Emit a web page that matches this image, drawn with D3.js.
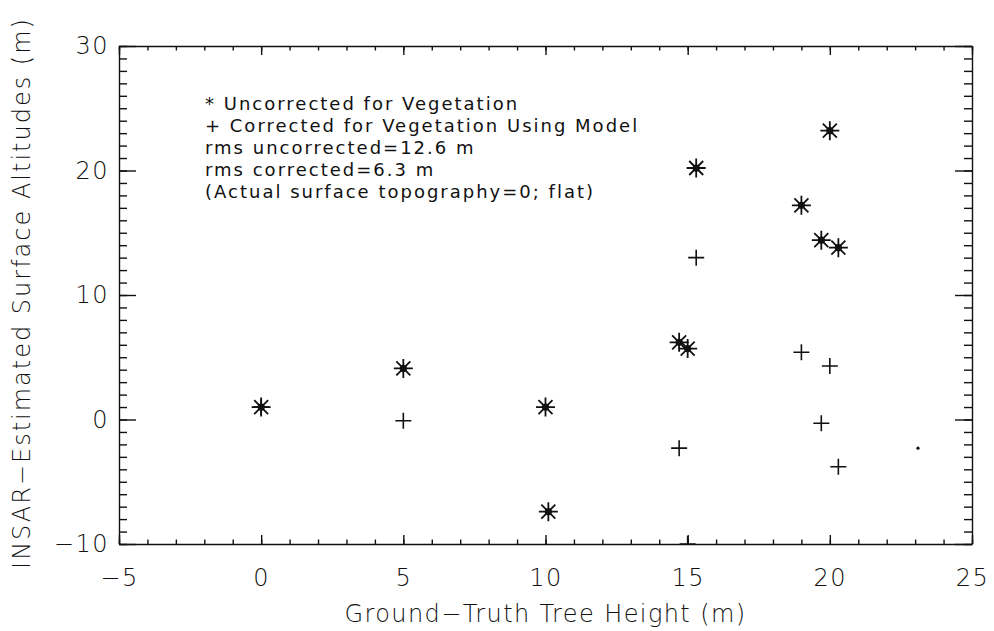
<!DOCTYPE html>
<html>
<head>
<meta charset="utf-8">
<script src="https://cdn.jsdelivr.net/npm/d3@7"></script>
<style>
  body { margin: 0; background: #fff; }
  text { font-family: "DejaVu Sans", sans-serif; fill: #111; }
</style>
</head>
<body>
<div id="chart"></div>
<script>
// tree height (m) vs INSAR estimated altitude (m)
var uncorrectedX = [0, 5, 10, 10.1, 14.7, 15.0, 15.3, 19.0, 19.7, 20.0, 20.3];
var uncorrectedY = [1.0, 4.1, 1.0, -7.4, 6.2, 5.7, 20.2, 17.2, 14.4, 23.2, 13.8];
var correctedX = [0, 5, 14.7, 15.0, 15.3, 19.0, 19.7, 20.0, 20.3];
var correctedY = [1.0, -0.1, -2.3, -10.0, 13.0, 5.4, -0.3, 4.3, -3.8];
var strayX = [23.1];
var strayY = [-2.3];

var xTicks = [-5, 0, 5, 10, 15, 20, 25];
var yTicks = [-10, 0, 10, 20, 30];
var legendLines = [
  "* Uncorrected for Vegetation",
  "+ Corrected for Vegetation Using Model",
  "rms uncorrected=12.6 m",
  "rms corrected=6.3 m",
  "(Actual surface topography=0; flat)"
];

drawChart();

function drawChart(){
   var W = 994, H = 631;
   var pl = 119, pr = 972, pt = 46, pb = 544;

   var svg = d3.select("#chart").append("svg")
      .attr("width", W)
      .attr("height", H);

   var x = d3.scaleLinear().domain([-5, 25]).range([pl, pr]);
   var y = d3.scaleLinear().domain([-10, 30]).range([pb, pt]);

   var minorX = d3.range(-5, 26, 1);
   var minorY = d3.range(-10, 31, 1);

   function styleAxis(g){
      g.selectAll("path, line").attr("stroke", "#111").attr("stroke-width", 1.4);
   }
   function noDomain(g){ g.select(".domain").remove(); }

   // bottom
   svg.append("g").attr("transform", "translate(0," + pb + ")")
      .call(d3.axisBottom(x).tickValues(minorX).tickSize(-4.5).tickSizeOuter(0).tickFormat(""))
      .call(styleAxis);
   svg.append("g").attr("class", "xlab").attr("transform", "translate(0," + pb + ")")
      .call(d3.axisBottom(x).tickValues(xTicks).tickSize(-9).tickSizeOuter(0).tickPadding(25))
      .call(styleAxis).call(noDomain);
   // top
   svg.append("g").attr("transform", "translate(0," + pt + ")")
      .call(d3.axisTop(x).tickValues(minorX).tickSize(-4.5).tickSizeOuter(0).tickFormat(""))
      .call(styleAxis);
   svg.append("g").attr("transform", "translate(0," + pt + ")")
      .call(d3.axisTop(x).tickValues(xTicks).tickSize(-9).tickSizeOuter(0).tickFormat(""))
      .call(styleAxis).call(noDomain);
   // left
   svg.append("g").attr("transform", "translate(" + pl + ",0)")
      .call(d3.axisLeft(y).tickValues(minorY).tickSize(-8).tickSizeOuter(0).tickFormat(""))
      .call(styleAxis);
   svg.append("g").attr("class", "ylab").attr("transform", "translate(" + pl + ",0)")
      .call(d3.axisLeft(y).tickValues(yTicks).tickSize(-17).tickSizeOuter(0).tickPadding(10))
      .call(styleAxis).call(noDomain);
   // right
   svg.append("g").attr("transform", "translate(" + pr + ",0)")
      .call(d3.axisRight(y).tickValues(minorY).tickSize(-8).tickSizeOuter(0).tickFormat(""))
      .call(styleAxis);
   svg.append("g").attr("transform", "translate(" + pr + ",0)")
      .call(d3.axisRight(y).tickValues(yTicks).tickSize(-17).tickSizeOuter(0).tickFormat(""))
      .call(styleAxis).call(noDomain);

   svg.selectAll(".xlab text, .ylab text")
      .attr("font-family", null)
      .attr("font-size", null)
      .style("font-size", "24px")
      .style("font-weight", "200")
      .style("letter-spacing", "1.5px")
      .attr("fill", "#111");

   // axis titles
   svg.append("text")
      .attr("x", (pl + pr) / 2)
      .attr("y", 622)
      .attr("text-anchor", "middle")
      .style("font-size", "24px")
      .style("font-weight", "200")
      .style("letter-spacing", "1.4px")
      .text("Ground\u2212Truth Tree Height (m)");

   svg.append("text")
      .attr("transform", "translate(30,293) rotate(-90)")
      .attr("text-anchor", "middle")
      .style("font-size", "24px")
      .style("font-weight", "200")
      .style("letter-spacing", "2px")
      .text("INSAR\u2212Estimated Surface Altitudes (m)");

   // legend
   svg.selectAll(".legend").data(legendLines).enter().append("text")
      .attr("class", "legend")
      .attr("x", 205)
      .attr("y", function(d, i){ return 110 + i * 22; })
      .style("font-size", "18px")
      .style("font-weight", "normal")
      .style("letter-spacing", "2px")
      .text(function(d){ return d; });

   // marks, clipped to plot window
   svg.append("clipPath").attr("id", "clip")
      .append("rect").attr("x", pl).attr("y", pt)
      .attr("width", pr - pl).attr("height", pb - pt);

   var plot = svg.append("g").attr("clip-path", "url(#clip)");

   var r = 9.5, d2 = 7;
   var starPath = "M" + (-r) + ",0H" + r + "M0," + (-r) + "V" + r +
      "M" + (-d2) + "," + (-d2) + "L" + d2 + "," + d2 +
      "M" + (-d2) + "," + d2 + "L" + d2 + "," + (-d2);
   var crossPath = "M-8,0H8M0,-8V8";

   var corr = plot.selectAll(".corr").data(correctedX).enter().append("g")
      .attr("class", "corr")
      .attr("transform", function(d, i){ return "translate(" + x(d) + "," + y(correctedY[i]) + ")"; });
   corr.append("path").attr("d", crossPath)
      .attr("stroke", "#111").attr("stroke-width", 1.6).attr("fill", "none");

   var unc = plot.selectAll(".unc").data(uncorrectedX).enter().append("g")
      .attr("class", "unc")
      .attr("transform", function(d, i){ return "translate(" + x(d) + "," + y(uncorrectedY[i]) + ")"; });
   unc.append("path").attr("d", starPath)
      .attr("stroke", "#111").attr("stroke-width", 1.8).attr("fill", "none");
   unc.append("circle").attr("r", 3.6).attr("fill", "#111");

   plot.selectAll(".stray").data(strayX).enter().append("circle")
      .attr("class", "stray")
      .attr("cx", function(d){ return x(d); })
      .attr("cy", function(d, i){ return y(strayY[i]); })
      .attr("r", 1.6)
      .attr("fill", "#111");
}
</script>
</body>
</html>
